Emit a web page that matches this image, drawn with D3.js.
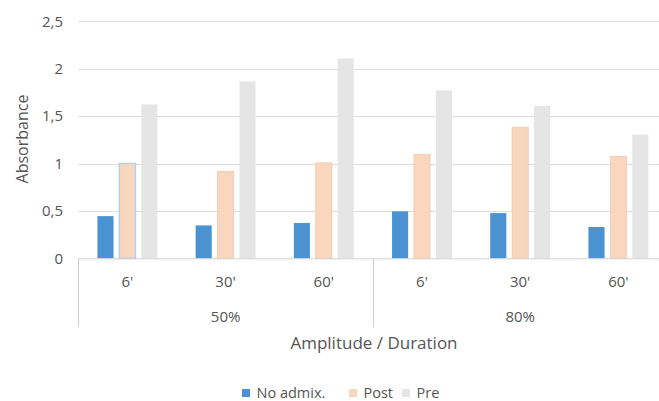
<!DOCTYPE html>
<html>
<head>
<meta charset="utf-8">
<script src="https://cdn.jsdelivr.net/npm/d3@7"></script>
<style>
  html, body { margin: 0; padding: 0; background: #fff; }
  svg { display: block; font-family: "Open Sans", "Noto Sans", sans-serif; }
</style>
</head>
<body>
<svg id="chart" width="659" height="401"></svg>
<script>
// Absorbance by amplitude and mixing duration
const amplitudes = ["50%", "80%"];
const durations = ["6'", "30'", "60'"];
const seriesNames = ["No admix.", "Post", "Pre"];
const noAdmix = [0.445, 0.347, 0.372, 0.495, 0.477, 0.330];
const post    = [1.000, 0.916, 1.006, 1.095, 1.382, 1.074];
const pre     = [1.624, 1.866, 2.108, 1.772, 1.606, 1.305];
const yTicks = [0, 0.5, 1, 1.5, 2, 2.5];

const colors = ["#4a92d2", "#f9d6be", "#e5e5e5"];
const strokes = ["none", "#f3c7a8", "none"];
const textColor = "#555555";

const svg = d3.select("#chart");
const W = 659, H = 401;

// categories: every (amplitude, duration) pair
const cats = [];
amplitudes.forEach(a => durations.forEach(d => cats.push({ amp: a, dur: d, key: a + "|" + d })));
const seriesValues = [noAdmix, post, pre];

const plotLeft = 78.3, plotRight = 667.5, plotTop = 21.3, plotBottom = 258.3;

const x0 = d3.scaleBand().domain(cats.map(c => c.key)).range([plotLeft, plotRight]).padding(0);
const x1 = d3.scaleBand().domain(seriesNames).range([0, x0.bandwidth()])
  .paddingInner(0.22).paddingOuter(0.85);
const y = d3.scaleLinear().domain([0, 2.5]).range([plotBottom, plotTop]);

// horizontal gridlines
svg.append("g").selectAll("line").data(yTicks.filter(t => t > 0)).join("line")
  .attr("x1", plotLeft).attr("x2", W)
  .attr("y1", d => Math.round(y(d)) + 0.5).attr("y2", d => Math.round(y(d)) + 0.5)
  .attr("stroke", "#dcdcdc").attr("stroke-width", 1);

// y axis labels
const yAxis = d3.axisLeft(y).tickValues(yTicks).tickSize(0).tickPadding(0)
  .tickFormat(d => String(d).replace(".", ","));
const yg = svg.append("g").attr("transform", `translate(${63},0)`).call(yAxis);
yg.select(".domain").remove();
yg.selectAll("text").attr("fill", textColor).style("font-size", "15px")
  .style("font-family", '"Open Sans", "Noto Sans", sans-serif');

// bars
const groups = svg.append("g").selectAll("g").data(cats).join("g")
  .attr("transform", c => `translate(${x0(c.key)},0)`);
groups.selectAll("rect")
  .data((c, ci) => seriesNames.map((s, si) => ({ s, si, ci, v: seriesValues[si][ci] })))
  .join("rect")
  .attr("x", d => x1(d.s) + 0.5)
  .attr("y", d => y(d.v))
  .attr("width", x1.bandwidth() - 1)
  .attr("height", d => plotBottom - y(d.v))
  .attr("fill", d => colors[d.si])
  .attr("stroke", d => (d.si === 1 && d.ci === 0) ? "#b4d0ee" : strokes[d.si])
  .attr("stroke-width", d => (d.si === 1 && d.ci === 0) ? 1.5 : 0.8);

// category axis baseline and group dividers
svg.append("line").attr("x1", plotLeft).attr("x2", W)
  .attr("y1", plotBottom + 0.5).attr("y2", plotBottom + 0.5)
  .attr("stroke", "#d0d0d0");
const dividers = amplitudes.map((a, i) => x0(cats[i * durations.length].key));
svg.append("g").selectAll("line").data(dividers).join("line")
  .attr("x1", d => Math.round(d) + 0.5).attr("x2", d => Math.round(d) + 0.5)
  .attr("y1", plotBottom).attr("y2", 327)
  .attr("stroke", "#d0d0d0");

// duration labels
svg.append("g").selectAll("text").data(cats).join("text")
  .attr("x", c => x0(c.key) + x0.bandwidth() / 2)
  .attr("y", 287)
  .attr("text-anchor", "middle")
  .attr("fill", textColor).style("font-size", "15px")
  .text(c => c.dur);

// amplitude labels
svg.append("g").selectAll("text").data(amplitudes).join("text")
  .attr("x", a => {
    const ks = cats.filter(c => c.amp === a);
    return (x0(ks[0].key) + x0(ks[ks.length - 1].key) + x0.bandwidth()) / 2;
  })
  .attr("y", 321.5)
  .attr("text-anchor", "middle")
  .attr("fill", textColor).style("font-size", "15px")
  .text(a => a);

// axis titles
svg.append("text").attr("x", 374).attr("y", 349).attr("text-anchor", "middle")
  .attr("fill", textColor).style("font-size", "17px").text("Amplitude / Duration");
svg.append("text").attr("transform", "translate(28,139) rotate(-90)")
  .attr("text-anchor", "middle").attr("fill", textColor).style("font-size", "16px")
  .text("Absorbance");

// legend
const legendX = [242, 349, 402];
const lg = svg.append("g").selectAll("g").data(seriesNames).join("g")
  .attr("transform", (s, i) => `translate(${legendX[i]},389)`);
lg.append("rect").attr("width", 8).attr("height", 8).attr("fill", (s, i) => colors[i]);
lg.append("text").attr("x", 14.5).attr("y", 8.5).attr("fill", textColor)
  .style("font-size", "14.5px").text(s => s);
</script>
</body>
</html>
